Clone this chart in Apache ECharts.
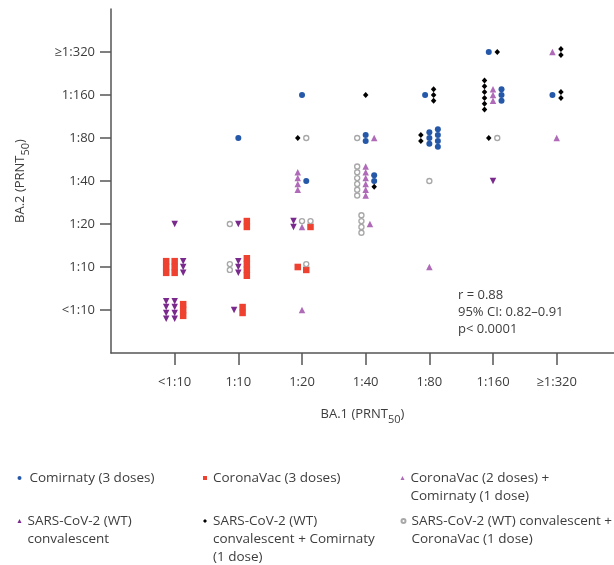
<!DOCTYPE html>
<html>
<head>
<meta charset="utf-8">
<script src="https://cdn.jsdelivr.net/npm/echarts@6/dist/echarts.min.js"></script>
<style>
  html, body { margin: 0; padding: 0; background: #fff; }
  #chart { width: 614px; height: 565px; }
</style>
</head>
<body>
<div id="chart"></div>
<script>
// titre categories (same on both axes)
const titreLabels = ['<1:10', '1:10', '1:20', '1:40', '1:80', '1:160', '≥1:320'];

// study groups: code used in the cell table, series name, legend text
const groupCodes = ['A', 'B', 'C', 'D', 'E', 'F'];
const groupNames = [
  'Comirnaty (3 doses)',
  'CoronaVac (3 doses)',
  'CoronaVac (2 doses) + Comirnaty (1 dose)',
  'SARS-CoV-2 (WT) convalescent',
  'SARS-CoV-2 (WT) convalescent + Comirnaty (1 dose)',
  'SARS-CoV-2 (WT) convalescent + CoronaVac (1 dose)'
];
const legendText = [
  'Comirnaty (3 doses)',
  'CoronaVac (3 doses)',
  'CoronaVac (2 doses) +\nComirnaty (1 dose)',
  'SARS-CoV-2 (WT)\nconvalescent',
  'SARS-CoV-2 (WT)\nconvalescent + Comirnaty\n(1 dose)',
  'SARS-CoV-2 (WT) convalescent +\nCoronaVac (1 dose)'
];

// one entry per occupied cell: [BA.1 index, BA.2 index, stacks of samples (top to bottom)]
const cells = [
  [0, 2, ['D']],
  [0, 1, ['BBB', 'BBB', 'DDD']],
  [0, 0, ['DDDD', 'DDDD', 'BBB']],
  [1, 4, ['A']],
  [1, 2, ['F', 'D', 'BB']],
  [1, 1, ['FF', 'DDD', 'BBBB']],
  [1, 0, ['D', 'BB']],
  [2, 5, ['A']],
  [2, 4, ['E', 'F']],
  [2, 3, ['CCCC', 'A']],
  [2, 2, ['DD', 'FC', 'FB']],
  [2, 1, ['B', 'FB']],
  [2, 0, ['C']],
  [3, 5, ['E']],
  [3, 4, ['F', 'AA', 'C']],
  [3, 3, ['FFFFFF', 'CCCCCC', 'AAE']],
  [3, 2, ['FFFF', 'C']],
  [4, 5, ['A', 'EEE']],
  [4, 4, ['EE', 'AAA', 'AAAA']],
  [4, 3, ['F']],
  [4, 1, ['C']],
  [5, 6, ['A', 'E']],
  [5, 5, ['EEEEEE', 'CCC', 'AAA']],
  [5, 4, ['E', 'F']],
  [5, 3, ['D']],
  [6, 6, ['C', 'EE']],
  [6, 5, ['A', 'EE']],
  [6, 4, ['C']]
];

const statLines = ['r = 0.88', '95% CI: 0.82–0.91', 'p< 0.0001'];

const FONT = '"Open Sans", "Noto Sans", sans-serif';
const AXIS_COLOR = '#555';
const TEXT_COLOR = '#3d3d3d';
const COL_STEP = 8.5;   // px between stacks inside a cell
const ROW_STEP = 5.8;   // px between samples inside a stack

const styles = {
  A: { symbol: 'circle', symbolSize: 6, itemStyle: { color: '#2558a8' } },
  B: { symbol: 'rect', symbolSize: [6.5, 6.6], itemStyle: { color: '#ef4130' } },
  C: { symbol: 'triangle', symbolSize: 6.5, itemStyle: { color: '#b06bb8' } },
  D: { symbol: 'triangle', symbolSize: 6.5, symbolRotate: 180, itemStyle: { color: '#7a2a8c' } },
  E: { symbol: 'diamond', symbolSize: [5.5, 6], itemStyle: { color: '#000' } },
  F: { symbol: 'circle', symbolSize: 5, itemStyle: { color: '#fff', borderColor: '#a8a8a8', borderWidth: 1.4 } }
};

// dot-plot layout: stacks centred on the cell, samples centred in each stack
const pointsByGroup = {};
groupCodes.forEach(c => { pointsByGroup[c] = []; });
cells.forEach(([xi, yi, stacks]) => {
  stacks.forEach((stack, si) => {
    const dx = (si - (stacks.length - 1) / 2) * COL_STEP;
    stack.split('').forEach((code, k) => {
      const dy = (k - (stack.length - 1) / 2) * ROW_STEP;
      pointsByGroup[code].push({ value: [xi, yi], symbolOffset: [dx, dy] });
    });
  });
});

const tickValues = titreLabels.map((_, i) => i);

function axis(extra) {
  return Object.assign({
    type: 'value',
    min: -1,
    interval: 1,
    splitLine: { show: false },
    axisLine: { show: true, onZero: false, lineStyle: { color: AXIS_COLOR, width: 1.5 } },
    axisTick: { show: true, customValues: tickValues, lineStyle: { color: AXIS_COLOR, width: 1.5 } },
    axisLabel: {
      customValues: tickValues,
      formatter: v => titreLabels[v] || '',
      color: TEXT_COLOR, fontFamily: FONT, fontSize: 13
    },
    nameLocation: 'middle',
    nameTextStyle: {
      color: TEXT_COLOR, fontFamily: FONT, fontSize: 13,
      rich: { s: { fontSize: 11, fontFamily: FONT, color: TEXT_COLOR, padding: [10, 0, 0, 0] } }
    }
  }, extra);
}

const xAxis = axis({ max: 6.9, name: 'BA.1 (PRNT{s|50})', nameGap: 51 });
xAxis.axisTick.length = 12;
xAxis.axisLabel.margin = 23;
const yAxis = axis({ max: 7, name: 'BA.2 (PRNT{s|50})', nameGap: 80 });
yAxis.axisTick.length = 11;
yAxis.axisLabel.margin = 16;

// legend: three columns, two rows; icon sits on the first text line
// (blank lines in front keep the first line level with the centred icon)
const legendCols = [17.5, 203, 400.5];
const legendRows = [478, 521];
const legendPad = [3, 1, 1, 1, 1, 1];
const LINE_H = 18;
const legends = groupNames.map((name, i) => {
  const lines = legendText[i].split('\n').length;
  return {
    data: [name],
    left: legendCols[i % 3],
    top: legendRows[Math.floor(i / 3)] - (2 * lines - 1) * LINE_H / 2,
    padding: 0,
    itemWidth: 4,
    itemHeight: 4,
    selectedMode: false,
    formatter: () => '\n'.repeat(lines - 1) + legendText[i],
    textStyle: {
      color: TEXT_COLOR, fontFamily: FONT, fontSize: 13.5, lineHeight: LINE_H,
      padding: [0, 0, 0, legendPad[i]]
    }
  };
});

const chart = echarts.init(document.getElementById('chart'), null, { renderer: 'canvas' });
chart.setOption({
  animation: false,
  backgroundColor: '#fff',
  grid: { left: 111, right: 0, top: 9, bottom: 212, containLabel: false },
  xAxis: xAxis,
  yAxis: yAxis,
  legend: legends,
  graphic: [{
    type: 'text',
    left: 458,
    top: 287,
    style: {
      text: statLines.join('\n'),
      fill: TEXT_COLOR,
      font: '13px ' + FONT,
      lineHeight: 17
    }
  }],
  series: groupCodes.map((code, i) => Object.assign({
    type: 'scatter',
    name: groupNames[i],
    data: pointsByGroup[code]
  }, styles[code], {
    itemStyle: Object.assign({ opacity: 1 }, styles[code].itemStyle)
  }))
});
</script>
</body>
</html>
